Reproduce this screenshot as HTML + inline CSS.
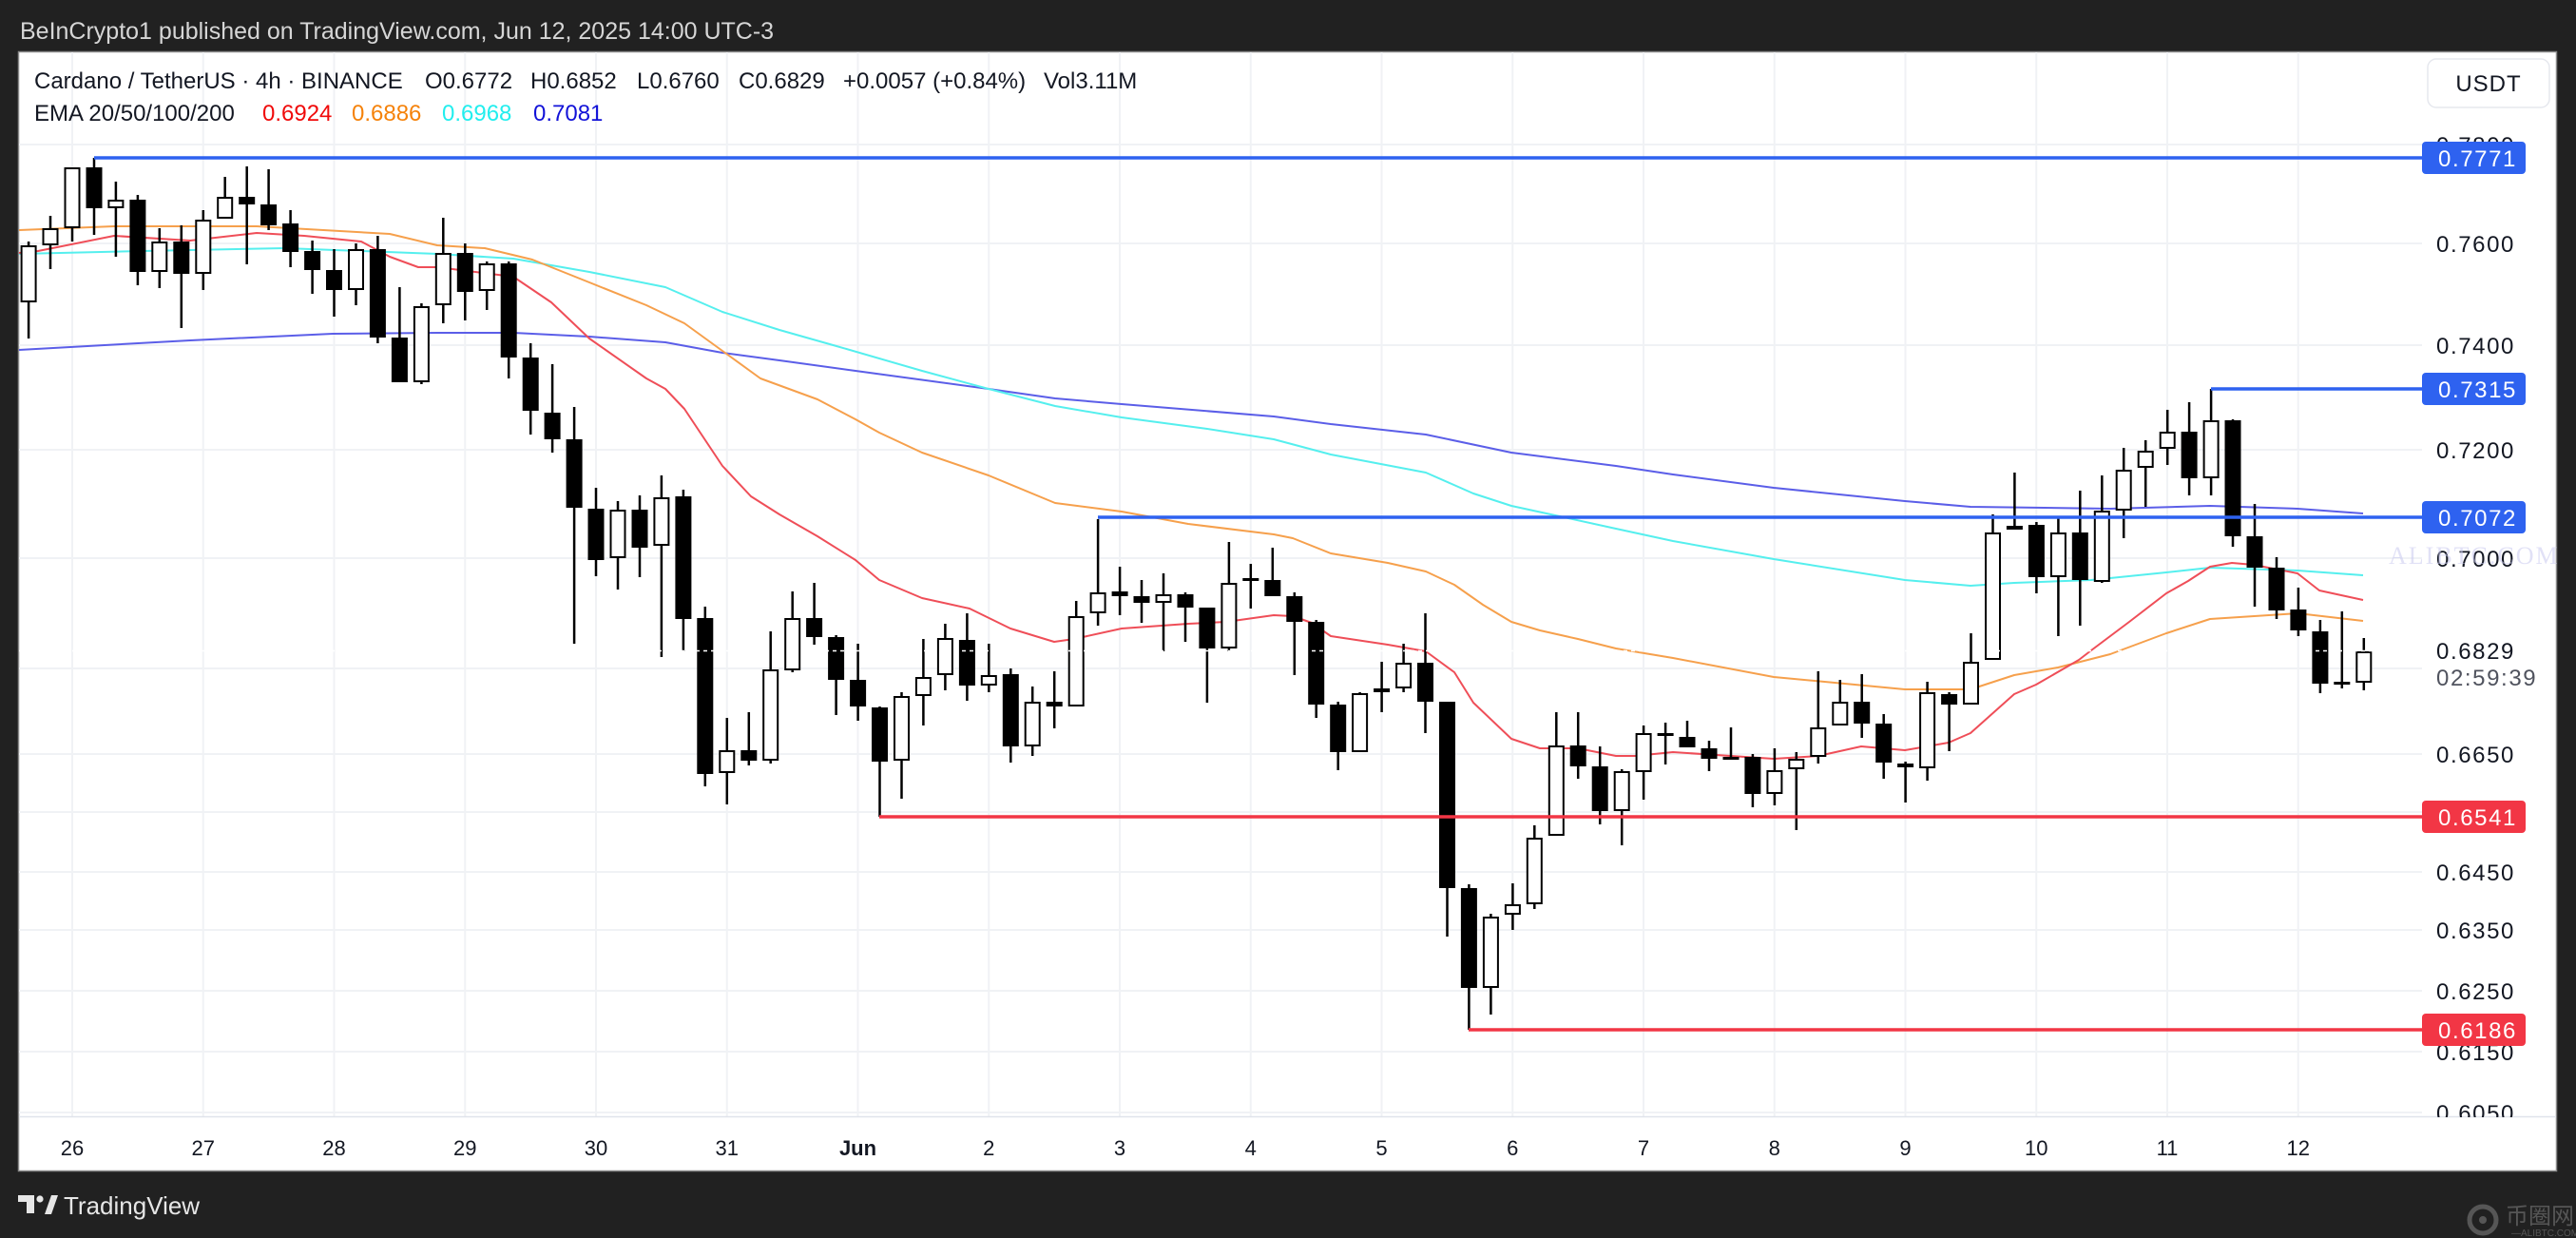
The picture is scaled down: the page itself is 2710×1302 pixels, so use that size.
<!DOCTYPE html>
<html><head><meta charset="utf-8"><style>
html,body{margin:0;padding:0;background:#212121;}
body{width:2710px;height:1302px;overflow:hidden;}
svg{display:block;}
text{font-family:"Liberation Sans","Noto Sans CJK SC",sans-serif;}
</style></head><body>
<svg width="2710" height="1302" viewBox="0 0 2710 1302" xmlns="http://www.w3.org/2000/svg">
<defs>
<clipPath id="cp"><rect x="20" y="55" width="2528" height="1119"/></clipPath>
<clipPath id="ap"><rect x="2548" y="120" width="141" height="1055"/></clipPath>
</defs>
<rect x="0" y="0" width="2710" height="1302" fill="#212121"/>
<text x="21" y="41" font-size="25" fill="#d6d6d6">BeInCrypto1 published on TradingView.com, Jun 12, 2025 14:00 UTC-3</text>
<rect x="19.5" y="54.5" width="2670" height="1177" fill="#ffffff" stroke="#8a8a8a" stroke-width="1.5"/>

<g clip-path="url(#cp)">
<g stroke="#f0f2f5" stroke-width="2">
<path d="M20 152H2548M20 256H2548M20 363H2548M20 473H2548M20 587H2548M20 703H2548M20 793H2548M20 854H2548M20 917H2548M20 978H2548M20 1042H2548M20 1106H2548M20 1170H2548"/>
<path d="M76 55V1174M213.75 55V1174M351.5 55V1174M489.25 55V1174M627 55V1174M764.75 55V1174M902.5 55V1174M1040.25 55V1174M1178 55V1174M1315.75 55V1174M1453.5 55V1174M1591.25 55V1174M1729 55V1174M1866.75 55V1174M2004.5 55V1174M2142.25 55V1174M2280 55V1174M2417.75 55V1174"/>
</g>
<g fill="none" stroke-width="2" stroke-linejoin="round">
<polyline stroke="#5b5ee8" points="20,368 200,358 350,351 460,350 540,350 620,354 700,360 760,371 820,379 900,390 1040,409 1110,419 1180,425 1340,438 1400,446 1500,457 1590,476 1700,490 1760,499 1866,513 2004,527 2073,533 2220,535 2325,532 2417,535 2486,540"/>
<polyline stroke="#55efee" points="20,267 150,264 300,261 460,267 540,272 620,286 700,302 760,328 820,347 880,364 970,390 1040,409 1110,427 1180,439 1270,451 1340,462 1400,478 1500,497 1550,519 1590,532 1650,545 1700,556 1760,569 1866,588 2004,610 2073,616 2119,613 2200,610 2279,602 2325,597 2417,600 2486,605"/>
<polyline stroke="#f6a04c" points="20,242 120,238 270,238 410,246 460,258 510,261 560,273 620,297 680,321 720,340 760,369 800,398 860,420 900,441 925,455 970,476 1040,500 1110,529 1180,538 1250,551 1340,562 1360,566 1400,582 1460,592 1500,601 1530,615 1560,636 1590,654 1620,663 1660,672 1700,682 1760,692 1866,712 2004,725 2073,725 2119,710 2165,702 2220,688 2279,666 2325,651 2417,645 2486,653"/>
<polyline stroke="#ef4e58" points="20,266 40,264 120,248 200,253 270,245 320,248 380,254 410,270 440,281 460,281 540,291 580,318 620,356 680,398 700,409 720,430 760,490 790,522 820,541 860,564 900,589 925,610 970,629 1020,640 1063,661 1109,675 1130,672 1180,661 1250,656 1290,654 1340,647 1360,648 1380,655 1400,669 1460,678 1500,685 1530,707 1550,739 1590,777 1620,787 1660,787 1700,795 1720,795 1760,791 1866,798 1913,795 1958,785 2004,789 2050,781 2073,771 2119,730 2142,720 2187,694 2200,684 2240,654 2279,624 2302,611 2325,596 2348,592 2371,594 2417,603 2440,621 2463,626 2486,631"/>
</g>
<path fill="none" stroke="#000" stroke-width="2.5" d="M30.1 254V356M53 227V283M76 176V254M99 166V247M121.9 191V270M144.9 205V300M167.8 240V303M190.8 237V345M213.8 221V305M236.7 186V230M259.7 175V278M282.6 178V242M305.6 221V281M328.6 253V309M351.5 262V333M374.5 256V321M397.4 248V361M420.4 302V402M443.4 319V404M466.3 229V340M489.3 256V337M512.2 275V326M535.2 275V398M558.2 361V457M581.1 383V476M604.1 428V677M627 513V606M650 527V620M673 521V607M695.9 500V691M718.9 515V685M741.8 638V827M764.8 755V846M787.8 749V805M810.7 664V803M833.7 622V707M856.6 613V678M879.6 668V752M902.6 677V758M925.5 743V859M948.5 728V840M971.4 672V763M994.4 656V726M1017.4 645V737M1040.3 677V728M1063.3 703V802M1086.2 722V795M1109.2 706V766M1132.2 632V743M1155.1 546V658M1178.1 596V647M1201 610V655M1224 603V685M1247 623V675M1269.9 639V739M1292.9 570V685M1315.8 593V640M1338.8 576V627M1361.8 623V710M1384.7 652V755M1407.7 738V810M1430.6 728V791M1453.6 696V749M1476.6 677V728M1499.5 645V771M1522.5 738V985M1545.4 930V1083M1568.4 961V1067M1591.4 929V978M1614.3 868V956M1637.3 749V879M1660.2 749V819M1683.2 785V867M1706.2 809V889M1729.1 763V841M1752.1 760V804M1775 758V786M1798 779V811M1821 765V798M1843.9 793V849M1866.9 787V847M1889.8 791V873M1912.8 706V803M1935.8 715V763M1958.7 709V776M1981.7 751V819M2004.6 801V844M2027.6 717V821M2050.6 728V790M2073.5 666V741M2096.5 541V694M2119.4 497V557M2142.4 549V624M2165.4 545V669M2188.3 516V658M2211.3 500V613M2234.2 471V566M2257.2 463V533M2280.2 431V489M2303.1 423V521M2326.1 409V521M2349 441V575M2372 530V638M2395 586V651M2417.9 618V669M2440.9 652V729M2463.8 643V724M2486.8 671V726"/>
<path fill="#000" d="M90.5 176h17v43h-17zM136.4 210h17v76h-17zM182.3 254h17v34h-17zM251.2 207h17v8h-17zM274.1 215h17v22h-17zM297.1 235h17v30h-17zM320.1 264h17v20h-17zM343 284h17v21h-17zM388.9 262h17v93h-17zM411.9 355h17v47h-17zM480.8 266h17v41h-17zM526.7 277h17v99h-17zM549.7 376h17v56h-17zM572.6 434h17v28h-17zM595.6 462h17v72h-17zM618.5 535h17v54h-17zM664.5 536h17v40h-17zM710.4 522h17v129h-17zM733.3 650h17v164h-17zM779.3 789h17v11h-17zM848.1 650h17v20h-17zM871.1 670h17v45h-17zM894.1 715h17v28h-17zM917 744h17v57h-17zM1008.9 673h17v48h-17zM1054.8 709h17v76h-17zM1100.7 738h17v5h-17zM1169.6 622h17v5h-17zM1192.5 627h17v7h-17zM1238.5 625h17v14h-17zM1261.4 639h17v43h-17zM1307.3 608h17v3h-17zM1330.3 610h17v17h-17zM1353.3 627h17v27h-17zM1376.2 654h17v87h-17zM1399.2 741h17v50h-17zM1491 697h17v41h-17zM1514 738h17v196h-17zM1536.9 934h17v105h-17zM1651.7 784h17v22h-17zM1674.7 806h17v47h-17zM1743.6 771h17v3h-17zM1766.5 775h17v11h-17zM1789.5 787h17v11h-17zM1812.5 796h17v3h-17zM1835.4 796h17v39h-17zM1950.2 738h17v23h-17zM1973.2 761h17v41h-17zM1996.1 803h17v4h-17zM2042.1 730h17v11h-17zM2133.9 552h17v55h-17zM2179.8 560h17v50h-17zM2294.6 454h17v49h-17zM2340.5 442h17v122h-17zM2363.5 564h17v33h-17zM2386.5 597h17v45h-17zM2409.4 641h17v22h-17zM2432.4 664h17v55h-17zM2455.3 717h17v3h-17z"/>
<path fill="#fff" stroke="#000" stroke-width="2" d="M22.6 259h15v58h-15zM45.5 241h15v16h-15zM68.5 177h15v62h-15zM114.4 211h15v7h-15zM160.3 255h15v30h-15zM206.3 232h15v55h-15zM229.2 208h15v21h-15zM367 263h15v41h-15zM435.9 323h15v78h-15zM458.8 267h15v53h-15zM504.7 278h15v27h-15zM642.5 537h15v49h-15zM688.4 524h15v49h-15zM757.3 790h15v22h-15zM803.2 705h15v94h-15zM826.2 651h15v53h-15zM941 733h15v66h-15zM963.9 713h15v18h-15zM986.9 672h15v37h-15zM1032.8 711h15v9h-15zM1078.7 739h15v45h-15zM1124.7 649h15v93h-15zM1147.6 624h15v20h-15zM1216.5 626h15v7h-15zM1285.4 614h15v67h-15zM1423.1 730h15v60h-15zM1446.1 725h15v2h-15zM1469.1 698h15v25h-15zM1560.9 965h15v73h-15zM1583.9 952h15v9h-15zM1606.8 882h15v68h-15zM1629.8 785h15v93h-15zM1698.7 812h15v40h-15zM1721.6 772h15v39h-15zM1859.4 811h15v23h-15zM1882.3 799h15v9h-15zM1905.3 766h15v29h-15zM1928.3 739h15v23h-15zM2020.1 729h15v78h-15zM2066 697h15v43h-15zM2089 561h15v132h-15zM2111.9 554h15v2h-15zM2157.9 561h15v45h-15zM2203.8 538h15v73h-15zM2226.7 495h15v41h-15zM2249.7 475h15v16h-15zM2272.7 455h15v16h-15zM2318.6 443h15v59h-15zM2479.3 686h15v31h-15z"/>
<path d="M20 684.5H2548" stroke="#fff" stroke-width="1.5" stroke-dasharray="4 4"/>
<g stroke-width="3.5">
<path d="M99 166H2548M2326 409H2548M1155 544H2548" stroke="#2e62f0"/>
<path d="M925 859H2548M1545 1083H2548" stroke="#f23645"/>
</g>
</g>

<path d="M20 1174.5H2689" stroke="#e0e3eb" stroke-width="1.5"/>

<g font-size="24" fill="#131722">
<text x="36" y="93">Cardano / TetherUS · 4h · BINANCE</text>
<text x="447" y="93">O0.6772</text>
<text x="558" y="93">H0.6852</text>
<text x="670" y="93">L0.6760</text>
<text x="777" y="93">C0.6829</text>
<text x="887" y="93">+0.0057 (+0.84%)</text>
<text x="1098" y="93">Vol3.11M</text>
<text x="36" y="127">EMA 20/50/100/200</text>
<text x="276" y="127" fill="#f00a0a">0.6924</text>
<text x="370" y="127" fill="#f5820a">0.6886</text>
<text x="465" y="127" fill="#22eeee">0.6968</text>
<text x="561" y="127" fill="#1212d8">0.7081</text>
</g>

<rect x="2554" y="62" width="128" height="51" rx="9" fill="#fff" stroke="#e6e8ee" stroke-width="1.5"/>
<text x="2618" y="96" font-size="24" fill="#131722" text-anchor="middle" style="letter-spacing:1px">USDT</text>

<g clip-path="url(#ap)" font-size="24" fill="#131722" style="letter-spacing:1.6px">
<text x="2563" y="161">0.7800</text>
<text x="2563" y="265">0.7600</text>
<text x="2563" y="372">0.7400</text>
<text x="2563" y="482">0.7200</text>
<text x="2563" y="596">0.7000</text>
<text x="2563" y="802">0.6650</text>
<text x="2563" y="926">0.6450</text>
<text x="2563" y="987">0.6350</text>
<text x="2563" y="1051">0.6250</text>
<text x="2563" y="1115">0.6150</text>
<text x="2563" y="1179">0.6050</text>
</g>
<text x="2513" y="593" font-size="26" fill="#c9c9f0" opacity="0.55" style="font-family:'Liberation Serif',serif;letter-spacing:2px">ALIBTC.COM</text>

<rect x="2549" y="668" width="138" height="58" fill="#fff"/>
<text x="2563" y="693" font-size="24" fill="#131722" style="letter-spacing:1.6px">0.6829</text>
<text x="2563" y="721" font-size="24" fill="#50535e" style="letter-spacing:1.6px">02:59:39</text>

<g font-size="24" fill="#fff" style="letter-spacing:1.6px">
<rect x="2548" y="149" width="109" height="34" rx="4" fill="#2e62f0"/>
<text x="2565" y="175">0.7771</text>
<rect x="2548" y="392" width="109" height="34" rx="4" fill="#2e62f0"/>
<text x="2565" y="418">0.7315</text>
<rect x="2548" y="527" width="109" height="34" rx="4" fill="#2e62f0"/>
<text x="2565" y="553">0.7072</text>
<rect x="2548" y="842" width="109" height="34" rx="4" fill="#f23645"/>
<text x="2565" y="868">0.6541</text>
<rect x="2548" y="1066" width="109" height="34" rx="4" fill="#f23645"/>
<text x="2565" y="1092">0.6186</text>
</g>

<g font-size="22" fill="#131722" text-anchor="middle">
<text x="76" y="1215">26</text>
<text x="213.75" y="1215">27</text>
<text x="351.5" y="1215">28</text>
<text x="489.25" y="1215">29</text>
<text x="627" y="1215">30</text>
<text x="764.75" y="1215">31</text>
<text x="902.5" y="1215" font-weight="bold">Jun</text>
<text x="1040.25" y="1215">2</text>
<text x="1178" y="1215">3</text>
<text x="1315.75" y="1215">4</text>
<text x="1453.5" y="1215">5</text>
<text x="1591.25" y="1215">6</text>
<text x="1729" y="1215">7</text>
<text x="1866.75" y="1215">8</text>
<text x="2004.5" y="1215">9</text>
<text x="2142.25" y="1215">10</text>
<text x="2280" y="1215">11</text>
<text x="2417.75" y="1215">12</text>
</g>

<g fill="#e6e6e6">
<path d="M19 1257h17v19h-8v-12h-9z"/>
<circle cx="42" cy="1261" r="3.6"/>
<path d="M47 1277l7-20h7l-7 20z"/>
</g>
<text x="67" y="1277" font-size="26" fill="#e6e6e6">TradingView</text>

<g opacity="0.6">
<circle cx="2612" cy="1283" r="14" fill="none" stroke="#7a7a7a" stroke-width="5"/>
<circle cx="2612" cy="1283" r="4" fill="#7a7a7a"/>
<text x="2636" y="1287" font-size="24" fill="#7a7a7a" style="font-family:'Liberation Sans','Noto Sans CJK SC',sans-serif">币圈网</text>
<text x="2642" y="1300" font-size="10" fill="#7a7a7a">—ALIBTC.COM—</text>
</g>
</svg>
</body></html>
